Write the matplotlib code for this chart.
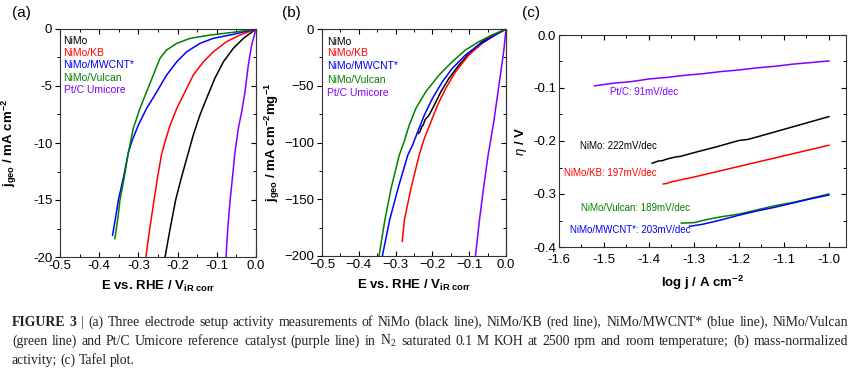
import matplotlib
matplotlib.use("Agg")
import matplotlib.pyplot as plt
from matplotlib.ticker import MultipleLocator, FuncFormatter

plt.rcParams['font.family'] = 'Liberation Sans'
plt.rcParams['axes.unicode_minus'] = False
plt.rcParams['mathtext.fontset'] = 'custom'
plt.rcParams['mathtext.rm'] = 'Liberation Sans'
plt.rcParams['mathtext.bf'] = 'Liberation Sans:bold'
plt.rcParams['mathtext.it'] = 'Liberation Sans:italic'

names = ["NiMo", "NiMo/KB", "NiMo/MWCNT*", "NiMo/Vulcan", "Pt/C Umicore"]
colors = ["#000000", "#ff0000", "#0000ff", "#008000", "#8000ff"]

# (a) geometric current density vs E (V)
a_nimo_E = [0, -0.032, -0.058, -0.083, -0.105, -0.126, -0.143, -0.160, -0.173, -0.190, -0.205, -0.219, -0.232]
a_nimo_j = [0, -0.82, -1.7, -2.87, -4.33, -6.08, -7.54, -9.3, -10.9, -13.0, -15.0, -17.5, -20]
a_kb_E = [0, -0.041, -0.075, -0.109, -0.134, -0.160, -0.181, -0.202, -0.219, -0.232, -0.241, -0.251, -0.260, -0.271, -0.281]
a_kb_j = [0, -0.53, -1.11, -2.0, -2.87, -4.04, -5.5, -6.96, -8.42, -9.88, -11.0, -13.0, -15.0, -17.5, -20]
a_mwcnt_E = [0, -0.058, -0.109, -0.143, -0.177, -0.202, -0.228, -0.253, -0.279, -0.300, -0.317, -0.326, -0.338, -0.351, -0.358, -0.366]
a_mwcnt_j = [0, -0.47, -0.82, -1.26, -2.0, -2.87, -4.04, -5.5, -6.96, -8.42, -9.88, -10.9, -13.0, -15.0, -16.5, -18.1]
a_vulcan_E = [0, -0.058, -0.117, -0.168, -0.202, -0.228, -0.245, -0.262, -0.279, -0.296, -0.313, -0.326, -0.336, -0.347, -0.352, -0.360]
a_vulcan_j = [0, -0.29, -0.53, -0.82, -1.26, -1.84, -2.57, -4.04, -5.5, -6.96, -8.71, -10.9, -13.0, -15.0, -16.5, -18.4]
a_ptc_E = [0, -0.011, -0.0196, -0.028, -0.0365, -0.045, -0.054, -0.060, -0.066, -0.072, -0.0765]
a_ptc_j = [0, -1.4, -3.16, -5.5, -7.25, -8.71, -10.9, -13.0, -15.0, -17.5, -20]

# (b) mass-normalized activity vs E (V)
b_nimo_E = [0, -0.029, -0.065, -0.096, -0.128, -0.155, -0.177, -0.195, -0.209, -0.220, -0.225, -0.229, -0.234, -0.238]
b_nimo_j = [0, -4.7, -11.2, -20.0, -31.8, -43.5, -55.3, -67.1, -75.9, -80.0, -84.7, -86.0, -90.6, -92.0]
b_kb_E = [0, -0.029, -0.065, -0.101, -0.137, -0.164, -0.186, -0.204, -0.222, -0.236, -0.258, -0.276, -0.282]
b_kb_j = [0, -5.3, -12.7, -22.9, -37.6, -52.4, -67.1, -81.8, -96.5, -111.2, -140.0, -168.0, -187.0]
b_mwcnt_E = [0, -0.038, -0.074, -0.110, -0.146, -0.173, -0.200, -0.222, -0.240, -0.254, -0.267, -0.293, -0.316, -0.336]
b_mwcnt_j = [0, -6.8, -14.1, -22.9, -34.7, -46.5, -61.2, -75.9, -90.6, -102.4, -111.2, -140.0, -168.0, -200]
b_vulcan_E = [0, -0.038, -0.074, -0.110, -0.146, -0.182, -0.218, -0.245, -0.263, -0.277, -0.290, -0.312, -0.329, -0.345]
b_vulcan_j = [0, -5.3, -11.2, -18.5, -28.8, -40.6, -55.3, -70.0, -84.7, -99.4, -111.0, -140.0, -168.0, -200]
b_ptc_E = [0, -0.0063, -0.0153, -0.0243, -0.0333, -0.0423, -0.0486, -0.061, -0.072, -0.083]
b_ptc_j = [0, -20.0, -40.6, -61.2, -81.8, -99.4, -111.2, -140.0, -168.0, -200]

# (c) Tafel plot: log j vs overpotential
c_ptc_x = [-1.521, -1.48, -1.44, -1.40, -1.36, -1.32, -1.28, -1.24, -1.20, -1.16, -1.12, -1.08, -1.04, -1.0]
c_ptc_y = [-0.096, -0.091, -0.088, -0.083, -0.080, -0.076, -0.073, -0.069, -0.066, -0.062, -0.059, -0.055, -0.052, -0.049]
c_nimo_x = [-1.393, -1.38, -1.37, -1.36, -1.34, -1.33, -1.30, -1.25, -1.20, -1.18, -1.15, -1.10, -1.05, -1.0]
c_nimo_y = [-0.242, -0.238, -0.237, -0.234, -0.230, -0.229, -0.222, -0.211, -0.199, -0.197, -0.190, -0.178, -0.166, -0.154]
c_kb_x = [-1.368, -1.36, -1.35, -1.30, -1.25, -1.20, -1.15, -1.10, -1.05, -1.0]
c_kb_y = [-0.281, -0.280, -0.277, -0.268, -0.258, -0.248, -0.238, -0.228, -0.218, -0.208]
c_vulcan_x = [-1.328, -1.30, -1.27, -1.24, -1.20, -1.16, -1.12, -1.08, -1.04, -1.0]
c_vulcan_y = [-0.355, -0.354, -0.348, -0.343, -0.338, -0.330, -0.322, -0.316, -0.308, -0.300]
c_mwcnt_x = [-1.31, -1.28, -1.24, -1.20, -1.16, -1.12, -1.08, -1.04, -1.0]
c_mwcnt_y = [-0.361, -0.357, -0.349, -0.340, -0.332, -0.325, -0.317, -0.309, -0.302]
c_labels = ["Pt/C: 91mV/dec", "NiMo: 222mV/dec", "NiMo/KB: 197mV/dec",
            "NiMo/Vulcan: 189mV/dec", "NiMo/MWCNT*: 203mV/dec"]
c_label_pos = [(-1.487, -0.107), (-1.554, -0.209), (-1.589, -0.2595),
               (-1.552, -0.326), (-1.575, -0.3685)]
c_label_colors = ["#8000ff", "#000000", "#ff0000", "#008000", "#0000ff"]

caption = [
    "(a) Three electrode setup activity measurements of NiMo (black line), NiMo/KB (red line), NiMo/MWCNT* (blue line), NiMo/Vulcan",
    "(green line) and Pt/C Umicore reference catalyst (purple line) in N$_\\mathregular{2}$ saturated 0.1 M KOH at 2500 rpm and room temperature; (b) mass-normalized",
    "activity; (c) Tafel plot.",
]

W, H = 860, 371
fig = plt.figure(figsize=(8.6, 3.71), dpi=100)


def box(l, t, r, b):
    return [l / W, 1 - b / H, (r - l) / W, (b - t) / H]


axa = fig.add_axes(box(60, 29, 256, 257))
axb = fig.add_axes(box(322, 29, 506, 256))
axc = fig.add_axes(box(559, 35, 846, 247))

lw = 1.1
for E, j, c in zip([a_nimo_E, a_kb_E, a_mwcnt_E, a_vulcan_E, a_ptc_E],
                   [a_nimo_j, a_kb_j, a_mwcnt_j, a_vulcan_j, a_ptc_j], colors):
    axa.plot(E, j, color=c, lw=lw)
for E, j, c in zip([b_nimo_E, b_kb_E, b_mwcnt_E, b_vulcan_E, b_ptc_E],
                   [b_nimo_j, b_kb_j, b_mwcnt_j, b_vulcan_j, b_ptc_j], colors):
    axb.plot(E, j, color=c, lw=lw)
for x, y, c in zip([c_ptc_x, c_nimo_x, c_kb_x, c_vulcan_x, c_mwcnt_x],
                   [c_ptc_y, c_nimo_y, c_kb_y, c_vulcan_y, c_mwcnt_y], c_label_colors):
    axc.plot(x, y, color=c, lw=lw)
for txt, (x, y), c in zip(c_labels, c_label_pos, c_label_colors):
    axc.text(x, y, txt, color=c, fontsize=7, va='center', ha='left')


def style_ax(ax, xmaj, ymaj, left_out=True, xpad=2):
    ax.xaxis.set_major_locator(MultipleLocator(xmaj))
    ax.xaxis.set_minor_locator(MultipleLocator(xmaj / 2))
    ax.yaxis.set_major_locator(MultipleLocator(ymaj))
    ax.yaxis.set_minor_locator(MultipleLocator(ymaj / 2))
    ax.tick_params(axis='x', which='both', direction='in', top=True, labelsize=9.5, pad=xpad)
    ax.tick_params(axis='y', which='both', direction='out' if left_out else 'in',
                   right=not left_out, labelsize=9.5, pad=2)
    ax.tick_params(which='major', length=3.5, width=0.8)
    ax.tick_params(which='minor', length=2, width=0.7)
    for s in ax.spines.values():
        s.set_linewidth(0.8)
        s.set_color('#333333')
    if left_out:
        sy = ax.secondary_yaxis('right')
        sy.yaxis.set_major_locator(MultipleLocator(ymaj))
        sy.yaxis.set_minor_locator(MultipleLocator(ymaj / 2))
        sy.tick_params(which='both', direction='in', labelright=False)
        sy.tick_params(which='major', length=3.5, width=0.8)
        sy.tick_params(which='minor', length=2, width=0.7)
        sy.spines['right'].set_linewidth(0.8)
        sy.spines['right'].set_color('#333333')


axa.set_xlim(-0.5, 0.0)
axa.set_ylim(-20, 0)
style_ax(axa, 0.1, 5)
axb.set_xlim(-0.5, 0.0)
axb.set_ylim(-200, 0)
style_ax(axb, 0.1, 50)
minus = lambda v, p: ("%.1f" % v).replace("-", "\u2212") if abs(v) > 1e-9 else "0.0"
axb.xaxis.set_major_formatter(FuncFormatter(minus))
axb.yaxis.set_major_formatter(FuncFormatter(lambda v, p: ("%d" % round(v)).replace("-", "\u2212")))
axc.set_xlim(-1.6, -0.962)
axc.set_ylim(-0.4, 0.0)
style_ax(axc, 0.1, 0.1, left_out=False, xpad=5)

xl = r'E vs. RHE / V$_{\mathbf{iR\ corr}}$'
axa.set_xlabel(xl, fontsize=9.5, fontweight='bold', labelpad=5)
axb.set_xlabel(xl, fontsize=9.5, fontweight='bold', labelpad=5)
axa.set_ylabel(r'j$_{\mathbf{geo}}$ / mA cm$^{\mathbf{-2}}$', fontsize=9.5, fontweight='bold')
axb.set_ylabel(r'j$_{\mathbf{geo}}$ / mA cm$^{\mathbf{-2}}$mg$^{\mathbf{-1}}$', fontsize=9.5, fontweight='bold')
axc.set_xlabel(r'log j / A cm$^{\mathbf{-2}}$', fontsize=9.5, fontweight='bold', labelpad=6)
axc.set_ylabel(r'$\mathit{\eta}$ / V', fontsize=9.5, fontweight='bold')
axa.yaxis.set_label_coords(-0.21, 0.5)
axb.yaxis.set_label_coords(-0.215, 0.5)
axc.yaxis.set_label_coords(-0.105, 0.5)

for ax, ys, x0, h in [(axa, [40.7, 53, 65.3, 77.6, 90], 0.018, 228),
                      (axb, [41.7, 53.5, 66, 79.5, 93.5], 0.026, 227)]:
    for name, c, yp in zip(names, colors, ys):
        ax.text(x0, 1 - (yp - 29) / h, name, color=c, fontsize=7.5,
                transform=ax.transAxes, va='center', ha='left')

for lab, xp in [("(a)", 12), ("(b)", 282), ("(c)", 522)]:
    fig.text(xp / W, 1 - 13 / H, lab, fontsize=11, va='center', ha='left')

# caption, justified lines like the journal layout
renderer = fig.canvas.get_renderer()
cap_kw = dict(fontsize=9.9, family='Liberation Serif', va='baseline', color='#222222')
line_y = [326, 345, 364]
left, right = 12, 848


def place_words(tokens, y, justify):
    objs = []
    for word, weight in tokens:
        objs.append(fig.text(0, 1 - y / H, word, fontweight=weight, **cap_kw))
    widths = [o.get_window_extent(renderer).width for o in objs]
    space = 3.0
    if justify and len(objs) > 1:
        space = (right - left - sum(widths)) / (len(objs) - 1)
    x = left
    for o, w in zip(objs, widths):
        o.set_x(x / W)
        x += w + space


first = [("FIGURE", 'bold'), ("3", 'bold'), ("|", 'normal')] + [(w, 'normal') for w in caption[0].split(" ")]
place_words(first, line_y[0], True)
place_words([(w, 'normal') for w in caption[1].split(" ")], line_y[1], True)
place_words([(w, 'normal') for w in caption[2].split(" ")], line_y[2], False)

fig.savefig("out.png", dpi=100)
